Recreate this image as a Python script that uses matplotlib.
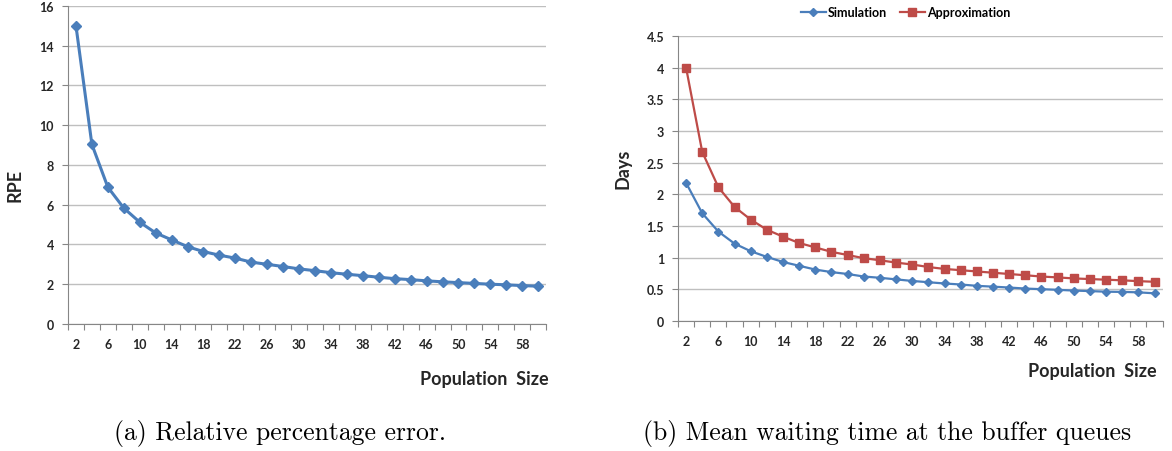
import numpy as np
import matplotlib.pyplot as plt

pop = list(range(2, 61, 2))
rpe = [15.0, 9.03, 6.88, 5.83, 5.12, 4.58, 4.23, 3.89, 3.64, 3.46,
       3.31, 3.11, 3.0, 2.89, 2.77, 2.68, 2.58, 2.5, 2.43, 2.35,
       2.28, 2.23, 2.17, 2.12, 2.08, 2.04, 2.0, 1.97, 1.93, 1.9]
sim = [2.18, 1.70, 1.41, 1.22, 1.10, 1.01, 0.93, 0.87, 0.81, 0.77,
       0.74, 0.70, 0.68, 0.655, 0.63, 0.61, 0.59, 0.574, 0.553, 0.54,
       0.526, 0.51, 0.50, 0.49, 0.478, 0.47, 0.46, 0.457, 0.45, 0.435]
approx = [4.0, 2.67, 2.11, 1.80, 1.60, 1.44, 1.33, 1.23, 1.16, 1.09,
          1.04, 0.99, 0.957, 0.92, 0.89, 0.85, 0.82, 0.80, 0.78, 0.76,
          0.74, 0.72, 0.70, 0.686, 0.67, 0.66, 0.65, 0.64, 0.627, 0.617]

blue = '#4A7EBB'
red = '#BE4B48'
grid = '#BFBFBF'
axc = '#868686'
txt = '#262626'
font = 'Lato'

fig = plt.figure(figsize=(11.72, 4.52), dpi=100)
ax1 = fig.add_axes([0.058, 0.281, 0.408, 0.704])
ax2 = fig.add_axes([0.5785, 0.288, 0.4135, 0.630])


def style(ax, ymax, ystep, fmt):
    n = len(pop)
    x = np.arange(n)
    ax.set_xlim(-0.5, n - 0.5)
    ax.set_ylim(0, ymax)
    yt = np.arange(0, ymax + ystep / 2, ystep)
    ax.set_yticks(yt)
    ax.set_yticklabels([fmt(v) for v in yt],
                       fontfamily=font, fontweight='bold', fontsize=9, color=txt)
    # tick marks sit between categories, labels on every other category
    ax.set_xticks(np.arange(-0.5, n, 1.0))
    ax.set_xticklabels([])
    ax.set_xticks(x[::2], minor=True)
    ax.set_xticklabels([str(p) for p in pop[::2]], minor=True,
                       fontfamily=font, fontweight='bold', fontsize=9, color=txt)
    ax.tick_params(axis='x', which='major', length=4, color=axc, direction='out')
    ax.tick_params(axis='x', which='minor', length=0, pad=10)
    ax.tick_params(axis='y', length=4, color=axc, direction='out', pad=6)
    ax.grid(axis='y', color=grid, linewidth=1)
    ax.set_axisbelow(True)
    for s in ['top', 'right']:
        ax.spines[s].set_visible(False)
    for s in ['left', 'bottom']:
        ax.spines[s].set_color(axc)
    return x


x = style(ax1, 16, 2, lambda v: '%d' % v)
ax1.plot(x, rpe, color=blue, lw=2.2, marker='D', ms=5, mec=blue)
ax1.set_ylabel('RPE', fontfamily=font, fontweight='bold', fontsize=13, color=txt)
ax1.yaxis.set_label_coords(-0.094, 0.44)
ax1.text(1.006, -0.17, 'Population  Size', transform=ax1.transAxes, ha='right', va='center',
         fontfamily=font, fontweight='bold', fontsize=13, color=txt)

x = style(ax2, 4.5, 0.5, lambda v: ('%g' % v))
ax2.plot(x, sim, color=blue, lw=1.6, marker='D', ms=4, mec=blue, label='Simulation')
ax2.plot(x, approx, color=red, lw=1.6, marker='s', ms=5.5, mec=red, label='Approximation')
ax2.set_ylabel('Days', fontfamily=font, fontweight='bold', fontsize=13, color=txt)
ax2.yaxis.set_label_coords(-0.095, 0.537)
ax2.text(0.988, -0.175, 'Population  Size', transform=ax2.transAxes, ha='right', va='center',
         fontfamily=font, fontweight='bold', fontsize=13, color=txt)
ax2.legend(loc='center', bbox_to_anchor=(0.47, 1.084), ncol=2, frameon=False,
           prop={'family': font, 'weight': 'bold', 'size': 9}, handlelength=2.0,
           columnspacing=1.0, handletextpad=0.2, borderaxespad=0)

fig.text(0.239, 0.04, '(a) Relative percentage error.', ha='center', va='center',
         fontfamily='cmr10', fontsize=18.5)
fig.text(0.757, 0.04, '(b) Mean waiting time at the buffer queues', ha='center', va='center',
         fontfamily='cmr10', fontsize=18.5)

fig.savefig('out.png', dpi=100)
